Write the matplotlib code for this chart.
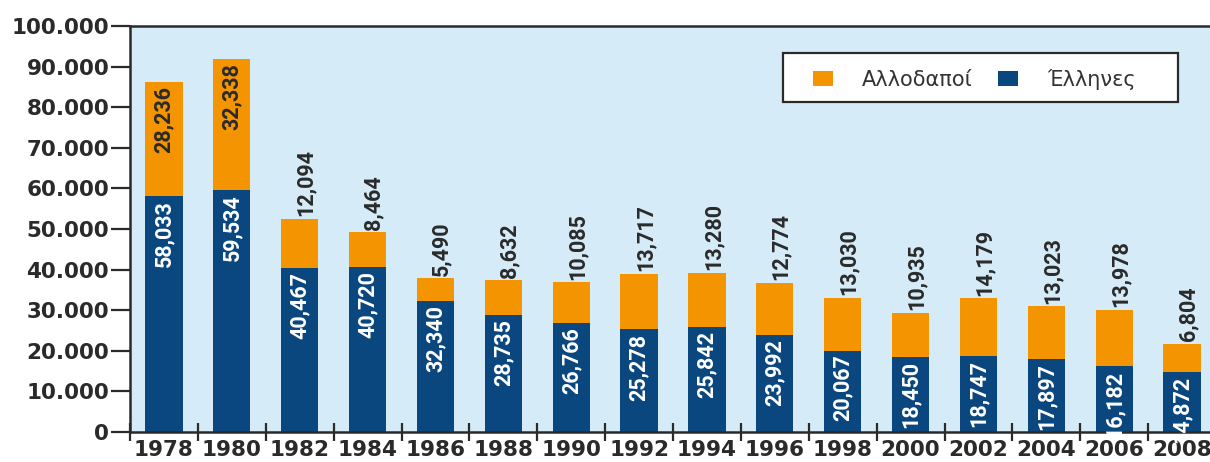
import matplotlib
matplotlib.use("Agg")
import matplotlib.pyplot as plt
from matplotlib.patches import Patch, Rectangle
from matplotlib.ticker import FuncFormatter

# Tourist arrivals per survey year: Greeks and foreigners
years = ["1978", "1980", "1982", "1984", "1986", "1988", "1990", "1992",
         "1994", "1996", "1998", "2000", "2002", "2004", "2006", "2008"]
greeks = [58033, 59534, 40467, 40720, 32340, 28735, 26766, 25278,
          25842, 23992, 20067, 18450, 18747, 17897, 16182, 14872]
foreigners = [28236, 32338, 12094, 8464, 5490, 8632, 10085, 13717,
              13280, 12774, 13030, 10935, 14179, 13023, 13978, 6804]
y_ticks = list(range(0, 100001, 10000))
legend_labels = ["Αλλοδαποί", "Έλληνες"]

ORANGE = "#F39400"
BLUE = "#0A477F"
BG = "#D5EBF8"
INK = "#2a2a2a"
LABEL_FONT = ["Roboto", "DejaVu Sans"]

W, H = 1210, 462
fig = plt.figure(figsize=(W / 100, H / 100), dpi=100)
ax = fig.add_axes([130 / W, 30 / H, 1086 / W, 406 / H])
ax.set_facecolor(BG)

x = list(range(len(years)))
bw = 0.55
ax.bar(x, greeks, width=bw, color=BLUE, zorder=2)
ax.bar(x, foreigners, width=bw, bottom=greeks, color=ORANGE, zorder=2)

ax.set_xlim(-0.5, len(years) - 0.5)
ax.set_ylim(0, 100000)

# value labels
lab_kw = dict(textcoords="offset points", rotation=90, ha="center",
              fontsize=15.5, fontweight="bold", family=LABEL_FONT, zorder=3)
for i, (g, f) in enumerate(zip(greeks, foreigners)):
    t = ax.annotate(f"{g:,}", (i, g), xytext=(0, -3), va="top",
                    color="white", **lab_kw)
    t.set_clip_on(True)
    top = g + f
    if f > 20000:
        ax.annotate(f"{f:,}", (i, top), xytext=(0, -3), va="top",
                    color=INK, **lab_kw)
    else:
        ax.annotate(f"{f:,}", (i, top), xytext=(4.5, 2), va="bottom",
                    color=INK, **lab_kw)

# axes frame
for side in ("left", "top", "bottom"):
    ax.spines[side].set_color(INK)
    ax.spines[side].set_linewidth(1.8)
ax.spines["right"].set_visible(False)

# y axis
ax.set_yticks(y_ticks)
ax.yaxis.set_major_formatter(FuncFormatter(lambda v, _: f"{int(v):,}".replace(",", ".")))
ax.tick_params(axis="y", length=14, width=1.6, color=INK, pad=1,
               labelsize=15.5, labelcolor=INK)
for t in ax.get_yticklabels():
    t.set_fontweight("bold")

# x axis: separators at category boundaries, year labels at centres
ax.set_xticks([i - 0.5 for i in range(len(years) + 1)])
ax.set_xticklabels([])
ax.set_xticks(x, minor=True)
ax.set_xticklabels(years, minor=True, fontsize=15.5, fontweight="bold", color=INK)
ax.tick_params(axis="x", which="major", direction="inout", length=13,
               width=1.6, color=INK)
ax.tick_params(axis="x", which="minor", length=0, pad=6)

# legend: white box with dark border, entries laid out inside
box = Rectangle((783 / W, 1 - 102 / H), (1178 - 783) / W, 49 / H,
                transform=fig.transFigure, facecolor="white",
                edgecolor=INK, linewidth=1.6, zorder=5)
fig.add_artist(box)
handles = [Patch(facecolor=ORANGE, edgecolor="none"),
           Patch(facecolor=BLUE, edgecolor="none")]
leg = fig.legend(handles, legend_labels, ncol=2, loc="center left",
                 bbox_to_anchor=(813 / W, 1 - 79 / H), borderaxespad=0,
                 frameon=False, fontsize=15, borderpad=0,
                 handlelength=0.96, handleheight=0.72, handletextpad=1.4,
                 columnspacing=1.2)
leg.set_zorder(6)
for t in leg.get_texts():
    t.set_color("#333333")

fig.savefig("out.png", dpi=100, facecolor="white")
